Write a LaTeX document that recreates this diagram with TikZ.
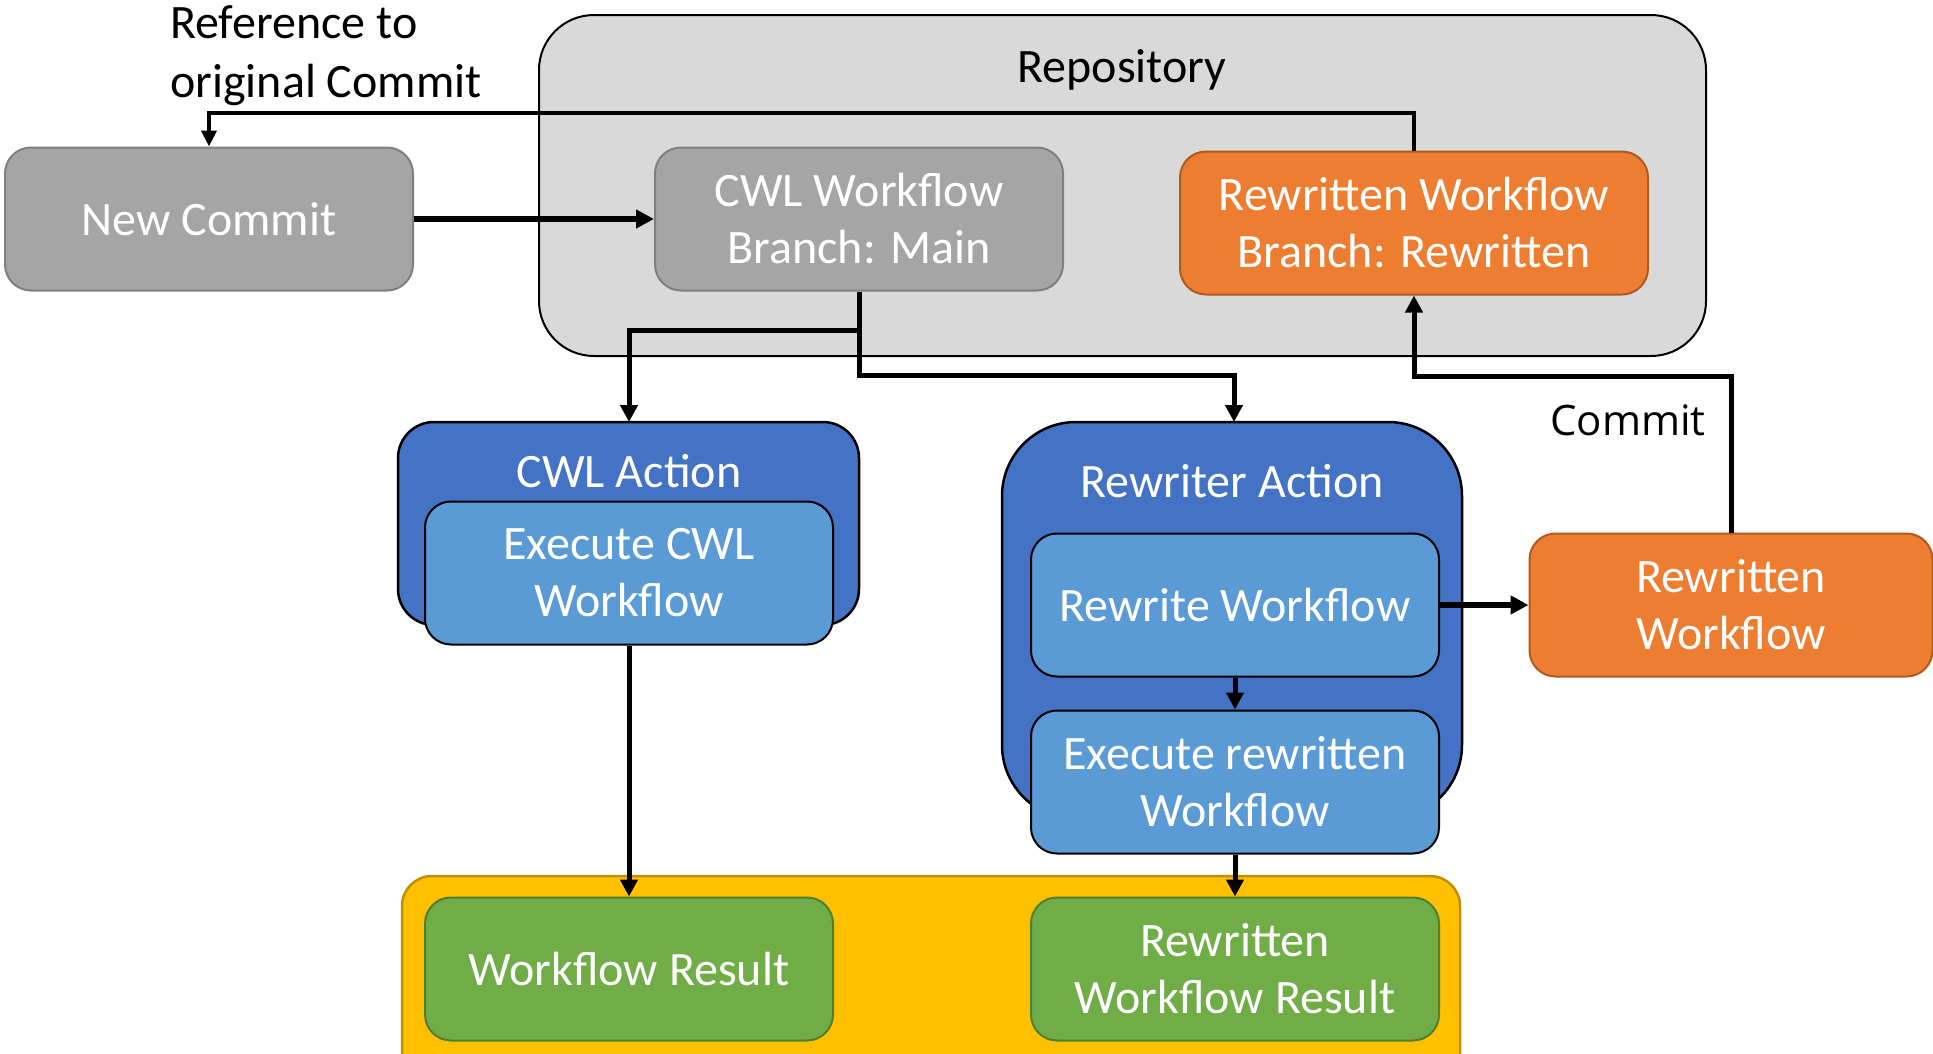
\documentclass[tikz,border=0pt]{standalone}
\usepackage{fontspec}
\setmainfont{Carlito}
\newfontfamily\labelfont{Open Sans}
\usetikzlibrary{arrows.meta,calc}

\definecolor{greyfill}{HTML}{A5A5A5}
\definecolor{greyline}{HTML}{7F7F7F}
\definecolor{repofill}{HTML}{D9D9D9}
\definecolor{orangefill}{HTML}{ED7D31}
\definecolor{orangeline}{HTML}{AE5A21}
\definecolor{actionfill}{HTML}{4472C4}
\definecolor{stepfill}{HTML}{5B9BD5}
\definecolor{resultarea}{HTML}{FFC000}
\definecolor{resultarealine}{HTML}{BF9000}
\definecolor{greenfill}{HTML}{70AD47}
\definecolor{greenline}{HTML}{507E32}

\tikzset{
  box/.style={rectangle, rounded corners=26pt, minimum width=408pt, minimum height=143pt,
    line width=2pt, text=white, align=center,
    font=\fontsize{48}{57}\selectfont, inner sep=0pt},
  greybox/.style={box, fill=greyfill, draw=greyline},
  orangebox/.style={box, fill=orangefill, draw=orangeline},
  stepbox/.style={box, fill=stepfill, draw=black},
  greenbox/.style={box, fill=greenfill, draw=greenline},
  title/.style={font=\fontsize{48}{57}\selectfont, inner sep=0pt},
  conn/.style={line width=5pt, -{Triangle[length=17pt,width=17pt]}},
  thinconn/.style={line width=4pt, -{Triangle[length=16pt,width=15pt]}},
  thickconn/.style={line width=6.5pt, -{Triangle[length=18pt,width=18pt]}},
}

\begin{document}
\begin{tikzpicture}[x=1pt,y=-1pt]
  \clip (0,0) rectangle (1933,1053);
  \useasboundingbox (0,0) rectangle (1933,1053);

  % containers
  \draw[fill=repofill, draw=black, line width=2pt, rounded corners=55pt]
    (539,15) rectangle (1706,356);
  \node[title] (repotitle) at (1122,70) {Repository};

  \draw[fill=actionfill, draw=black, line width=2.5pt, rounded corners=36pt]
    (398,422) rectangle (859,625);
  \node[title, text=white] (cwltitle) at (629,471) {CWL Action};

  \draw[fill=actionfill, draw=black, line width=2.5pt, rounded corners=74pt]
    (1002,422) rectangle (1462,819);
  \node[title, text=white] (rwtitle) at (1232,481) {Rewriter Action};

  \draw[fill=resultarea, draw=resultarealine, line width=2.5pt, rounded corners=30pt]
    (402,876) rectangle (1460,1090);

  % coordinates of the container tops
  \coordinate (cwlact) at (629,422);
  \coordinate (rwact) at (1234,422);

  % boxes
  \node[greybox] (nc) at (209,219) {New Commit};
  \node[greybox] (main) at (859,219) {CWL Workflow\\Branch: Main};
  \node[orangebox, minimum width=468pt] (rwb) at (1414,223) {Rewritten Workflow\\Branch: Rewritten};

  \node[stepbox] (excwl) at (629,573) {Execute CWL\\Workflow};
  \node[stepbox] (rewrite) at (1235,605) {Rewrite Workflow};
  \node[stepbox] (exrw) at (1235,782) {Execute rewritten\\Workflow};

  \node[orangebox, minimum width=403pt] (rwwf) at (1731,605) {Rewritten\\Workflow};

  \node[greenbox] (wres) at (629,969) {Workflow Result};
  \node[greenbox] (rwres) at (1235,969) {Rewritten\\Workflow Result};

  % labels
  \node[anchor=north west, align=left, inner sep=0pt, font=\fontsize{48}{59}\selectfont]
    (reflabel) at (170,5) {Reference to\\original Commit};
  \node[anchor=east, inner sep=0pt, font=\labelfont\fontsize{42}{50}\selectfont] (commitlabel)
    at (1706,420) {Commit};

  % connectors
  \draw[thinconn] (rwb.north) -- (rwb.north |- 0,113) -| (nc.north);
  \draw[thickconn] (nc.east) -- (main.west);
  \draw[conn] (main.south) -- (main.south |- 0,330) -| (cwlact);
  \draw[conn] (main.south) -- (main.south |- 0,375) -| (rwact);
  \draw[conn] (rewrite.south) -- (exrw.north);
  \draw[thickconn] (rewrite.east) -- (rwwf.west);
  \draw[conn] (rwwf.north) -- (rwwf.north |- 0,376) -| (rwb.south);
  \draw[conn] (excwl.south) -- (wres.north);
  \draw[conn] (exrw.south) -- (rwres.north);
\end{tikzpicture}
\end{document}
